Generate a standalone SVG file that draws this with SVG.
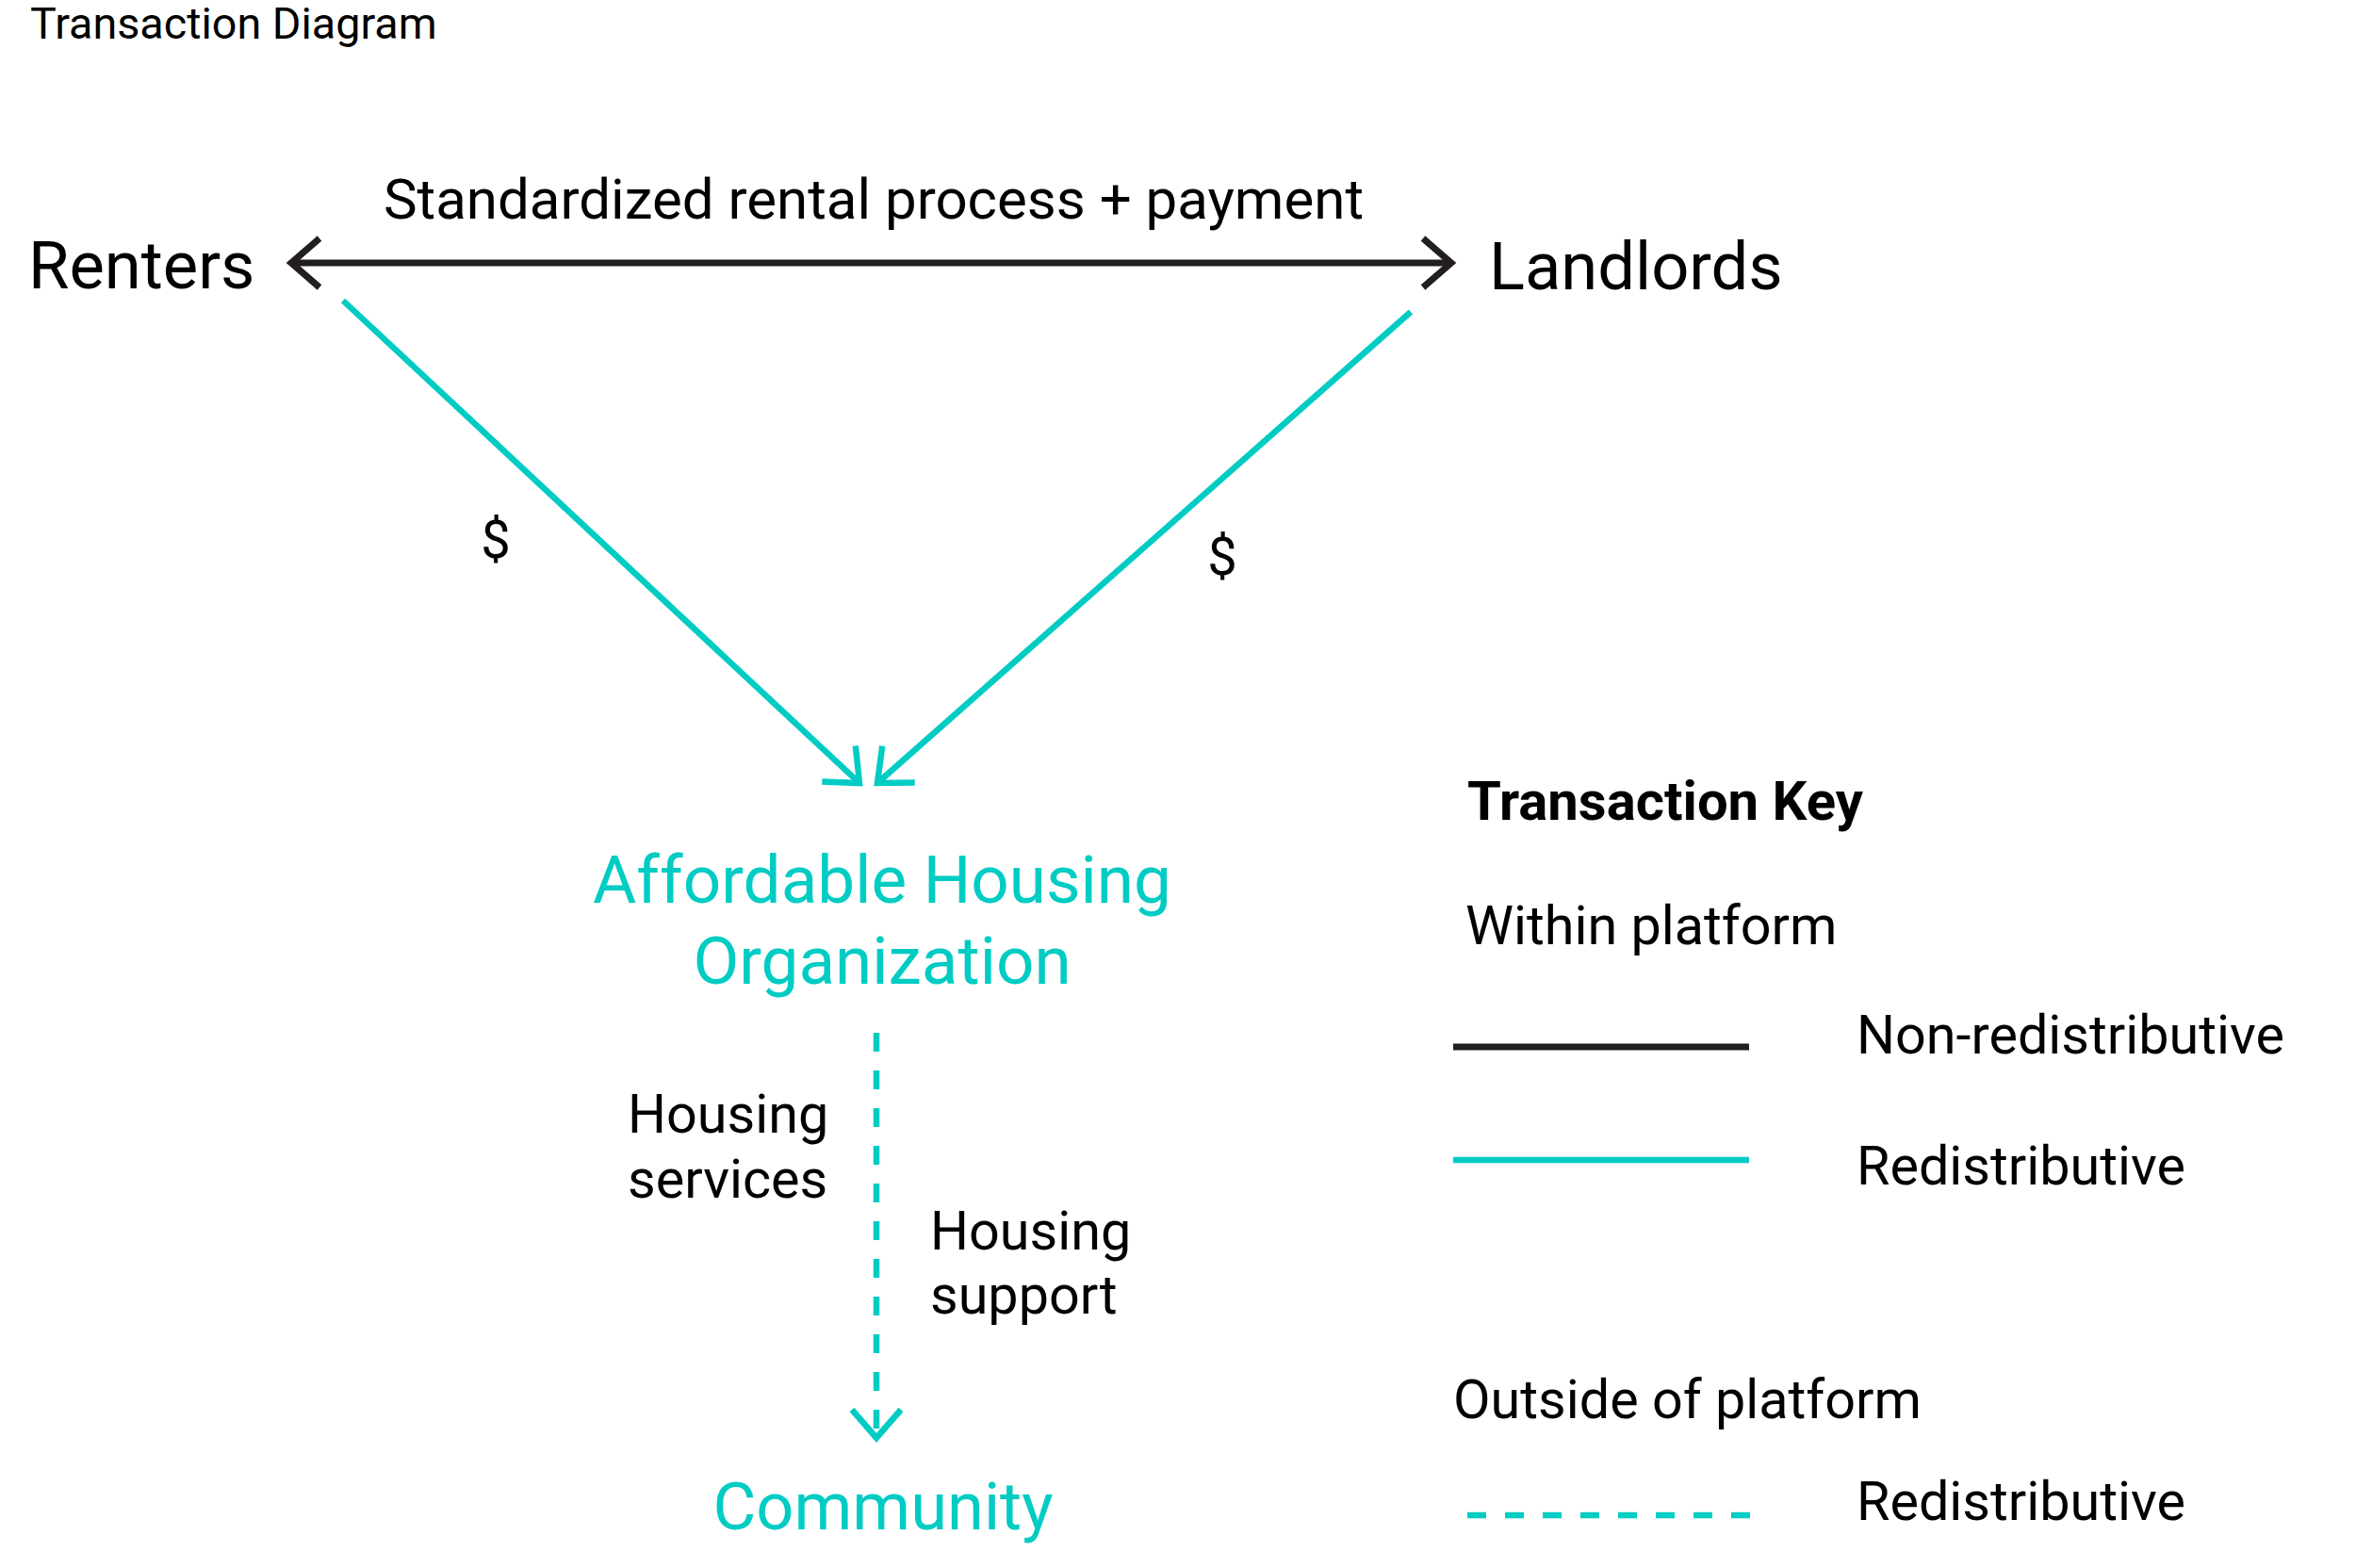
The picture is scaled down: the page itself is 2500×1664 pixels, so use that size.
<svg xmlns="http://www.w3.org/2000/svg" width="2500" height="1664" viewBox="0 0 2500 1664">
  <style>
    text { font-family: Roboto, "Liberation Sans", sans-serif; fill: #000; }
    .title { font-size: 46.7px; }
    .party { font-size: 70.5px; }
    .org { font-size: 71px; fill: #00CCC3; text-anchor: middle; }
    .lbl { font-size: 60px; }
    .small { font-size: 57.5px; }
    .money { font-size: 56px; text-anchor: middle; }
    .key { font-size: 58px; font-weight: bold; }
    .dark { stroke: #231f20; stroke-width: 7; fill: none; }
    .teal { stroke: #00CCC3; stroke-width: 6.5; fill: none; }
    .dash { stroke: #00CCC3; stroke-width: 6.5; fill: none; stroke-dasharray: 20 20; }
  </style>
  <defs>
    <marker id="ah-dark" viewBox="-45 -45 90 90" markerWidth="90" markerHeight="90" refX="0" refY="0" orient="auto-start-reverse" markerUnits="userSpaceOnUse" overflow="visible">
      <path d="M-30,-26 L0,0 L-30,26" fill="none" stroke="#231f20" stroke-width="7" stroke-linejoin="miter"/>
    </marker>
    <marker id="ah-teal" viewBox="-45 -45 90 90" markerWidth="90" markerHeight="90" refX="0" refY="0" orient="auto" markerUnits="userSpaceOnUse" overflow="visible">
      <path d="M-30,-26 L0,0 L-30,26" fill="none" stroke="#00CCC3" stroke-width="6.5" stroke-linejoin="miter"/>
    </marker>
  </defs>
  <rect width="2500" height="1664" fill="#fff"/>

  <text class="title" x="32" y="41">Transaction Diagram</text>

  <g id="connectors">
    <line class="dark" x1="309" y1="279" x2="1540" y2="279" marker-start="url(#ah-dark)" marker-end="url(#ah-dark)"/>
    <line class="teal" x1="364" y1="319" x2="912" y2="831" marker-end="url(#ah-teal)"/>
    <line class="teal" x1="1497" y1="331" x2="931" y2="831" marker-end="url(#ah-teal)"/>
    <line class="dash" x1="930" y1="1096" x2="930" y2="1526" marker-end="url(#ah-teal)"/>
    <text class="lbl" x="927" y="232" text-anchor="middle">Standardized rental process + payment</text>
    <text class="money" x="526" y="592">$</text>
    <text class="money" x="1297" y="610">$</text>
    <text class="small" x="666" y="1202">Housing</text>
    <text class="small" x="666" y="1271">services</text>
    <text class="small" x="987" y="1326">Housing</text>
    <text class="small" x="987" y="1394">support</text>
  </g>

  <g id="node-renters">
    <text class="party" x="30" y="306">Renters</text>
  </g>
  <g id="node-landlords">
    <text class="party" x="1580" y="307">Landlords</text>
  </g>
  <g id="node-aho">
    <text class="org" x="936" y="958">Affordable Housing</text>
    <text class="org" x="936" y="1044">Organization</text>
  </g>
  <g id="node-community">
    <text class="org" x="937" y="1623" style="font-size:70.5px">Community</text>
  </g>

  <g id="legend">
    <text class="key" x="1557" y="870">Transaction Key</text>
    <text class="small" x="1555" y="1002">Within platform</text>
    <line class="dark" x1="1542" y1="1111" x2="1856" y2="1111"/>
    <text class="small" x="1970" y="1118">Non-redistributive</text>
    <line class="teal" x1="1542" y1="1231" x2="1856" y2="1231"/>
    <text class="small" x="1970" y="1257">Redistributive</text>
    <text class="small" x="1542" y="1505">Outside of platform</text>
    <line class="dash" x1="1557" y1="1608" x2="1857" y2="1608"/>
    <text class="small" x="1970" y="1613">Redistributive</text>
  </g>
</svg>
